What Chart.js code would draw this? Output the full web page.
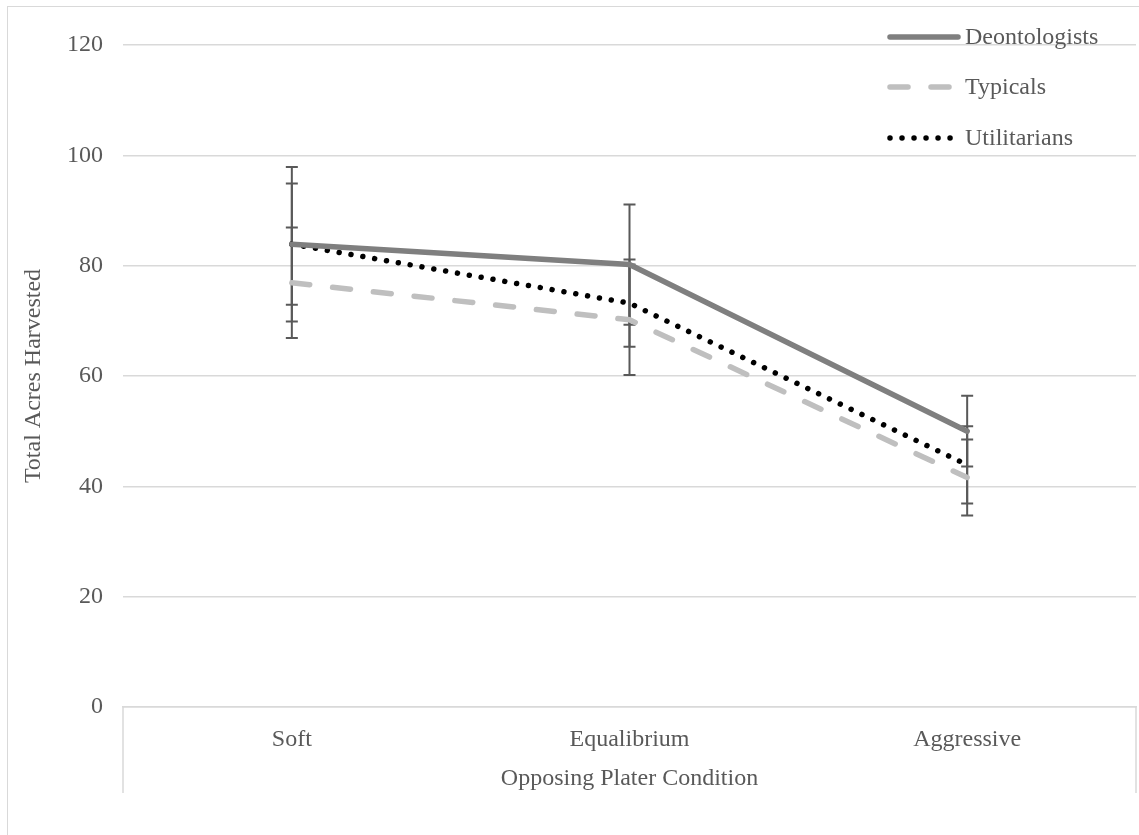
<!DOCTYPE html>
<html>
<head>
<meta charset="utf-8">
<script src="https://cdn.jsdelivr.net/npm/chart.js@4.4.1/dist/chart.umd.min.js"></script>
<style>
  html, body { margin: 0; padding: 0; background: #ffffff; }
  #frame { position: absolute; left: 7px; top: 6px; width: 1140px; height: 840px; border: 1px solid #d9d9d9; box-sizing: border-box; }
  #c { position: absolute; left: 0; top: 0; }
</style>
</head>
<body>
<div id="frame"></div>
<canvas id="c" width="1139" height="835"></canvas>
<script>
// ---- data ----
const categories = ["Soft", "Equalibrium", "Aggressive"];
const deontMeans = [83.9, 80.2, 50.0];
const deontErr   = [14.0, 10.9, 6.4];
const typicalMeans = [76.9, 70.2, 41.6];
const typicalErr   = [10.0, 10.0, 6.9];
const utilMeans = [83.9, 73.2, 43.9];
const utilErr   = [11.0, 7.9, 7.0];
const yTicks = [0, 20, 40, 60, 80, 100, 120];

const FONT = "'Liberation Serif', 'Times New Roman', serif";
const TXT = '#595959';
const FS = 24;

const errorBars = {
  id: 'errorBars',
  beforeDatasetsDraw(chart) {
    const ctx = chart.ctx, xs = chart.scales.x, ys = chart.scales.y;
    ctx.save();
    ctx.strokeStyle = '#595959';
    ctx.lineWidth = 2;
    ctx.setLineDash([]);
    chart.data.datasets.forEach(ds => {
      ds.values.forEach((v, i) => {
        const e = ds.errors[i];
        const x = xs.getPixelForValue(i);
        const yH = ys.getPixelForValue(v + e);
        const yL = ys.getPixelForValue(v - e);
        ctx.beginPath();
        ctx.moveTo(x, yH); ctx.lineTo(x, yL);
        ctx.moveTo(x - 6, yH); ctx.lineTo(x + 6, yH);
        ctx.moveTo(x - 6, yL); ctx.lineTo(x + 6, yL);
        ctx.stroke();
      });
    });
    ctx.restore();
  }
};

const extras = {
  id: 'extras',
  afterDraw(chart) {
    const ctx = chart.ctx, a = chart.chartArea;
    ctx.save();
    ctx.strokeStyle = '#d9d9d9';
    ctx.lineWidth = 1.5;
    ctx.beginPath();
    ctx.moveTo(a.left, a.bottom); ctx.lineTo(a.left, a.bottom + 86);
    ctx.moveTo(a.right, a.bottom); ctx.lineTo(a.right, a.bottom + 86);
    ctx.stroke();
    const x0 = a.right - 249;
    const rows = [37, 87, 138];
    chart.data.datasets.forEach((ds, k) => {
      const y = rows[k];
      ctx.strokeStyle = ds.borderColor;
      ctx.lineWidth = ds.borderWidth;
      ctx.lineCap = 'round';
      ctx.setLineDash(ds.borderDash || []);
      ctx.beginPath();
      ctx.moveTo(x0 + 3, y); ctx.lineTo(x0 + 71, y);
      ctx.stroke();
      ctx.setLineDash([]);
      ctx.fillStyle = TXT;
      ctx.font = FS + 'px ' + FONT;
      ctx.textBaseline = 'middle';
      ctx.textAlign = 'left';
      ctx.fillText(ds.label, x0 + 78, y + 1);
    });
    ctx.restore();
  }
};

new Chart(document.getElementById('c'), {
  type: 'line',
  data: {
    labels: categories,
    datasets: [
      { label: 'Deontologists', data: deontMeans, values: deontMeans, errors: deontErr,
        borderColor: '#7f7f7f', borderWidth: 5.5, borderCapStyle: 'round', pointRadius: 0, tension: 0 },
      { label: 'Typicals', data: typicalMeans, values: typicalMeans, errors: typicalErr,
        borderColor: '#bfbfbf', borderWidth: 5.5, borderDash: [18, 23], borderCapStyle: 'round', pointRadius: 0, tension: 0 },
      { label: 'Utilitarians', data: utilMeans, values: utilMeans, errors: utilErr,
        borderColor: '#000000', borderWidth: 5.5, borderDash: [0.01, 12], borderCapStyle: 'round', pointRadius: 0, tension: 0 }
    ]
  },
  options: {
    responsive: false,
    animation: false,
    layout: { padding: { left: 0, top: 45, right: 3, bottom: 42 } },
    plugins: { legend: { display: false }, tooltip: { enabled: false } },
    scales: {
      x: {
        offset: true,
        grid: { display: false, drawOnChartArea: false },
        border: { display: true, color: '#d9d9d9', width: 1.5 },
        ticks: { color: TXT, font: { family: FONT, size: FS }, padding: 10, maxRotation: 0 },
        title: { display: true, text: 'Opposing Plater Condition', color: TXT, font: { family: FONT, size: FS }, padding: { top: 15, bottom: 0 } },
        afterFit(s) { s.height = 86; }
      },
      y: {
        min: 0, max: 120,
        afterBuildTicks(s) { s.ticks = yTicks.map(v => ({ value: v })); },
        grid: { color: '#d9d9d9', lineWidth: 1.5, drawTicks: false },
        border: { display: false },
        ticks: { color: TXT, font: { family: FONT, size: FS }, padding: 20 },
        title: { display: true, text: 'Total Acres Harvested', color: TXT, font: { family: FONT, size: FS }, padding: { top: 19, bottom: 0 } },
        afterFit(s) { s.width = 123; }
      }
    }
  },
  plugins: [errorBars, extras]
});
</script>
</body>
</html>
